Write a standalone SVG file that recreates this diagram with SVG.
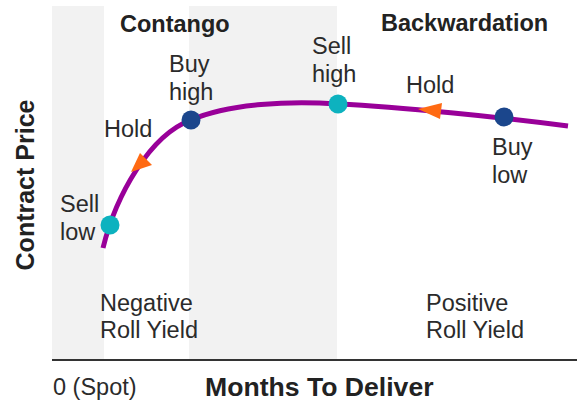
<svg xmlns="http://www.w3.org/2000/svg" width="577" height="401" viewBox="0 0 577 401">
  <style>
    text { font-family: "Liberation Sans", Arial, sans-serif; fill: #2b2b2b; }
    .lbl { font-size: 23.5px; }
    .hdr { font-size: 23.5px; font-weight: bold; fill: #222; }
    .axis-title { font-weight: bold; fill: #222; }
    .band { fill: #f2f2f2; }
    .curve { fill: none; stroke: #990099; stroke-width: 5; stroke-linecap: butt; }
    .teal { fill: #0db2bf; }
    .navy { fill: #1b468c; }
    .arrow { fill: #ff6a13; }
  </style>

  <rect width="577" height="401" fill="#ffffff"/>

  <!-- shaded regions -->
  <g id="bands">
    <rect class="band" x="52" y="6" width="52" height="353"/>
    <rect class="band" x="189" y="6" width="148" height="353"/>
  </g>

  <!-- horizontal axis -->
  <line x1="52" y1="360" x2="577" y2="360" stroke="#333" stroke-width="2"/>

  <!-- region headers -->
  <text class="hdr" x="120" y="32">Contango</text>
  <text class="hdr" x="381" y="31">Backwardation</text>

  <!-- axis titles -->
  <text class="axis-title" x="34" y="185" font-size="25" text-anchor="middle" transform="rotate(-90 34 185)">Contract Price</text>
  <text class="axis-title" x="205" y="396" font-size="26.6">Months To Deliver</text>
  <text class="lbl" x="53" y="395">0 (Spot)</text>

  <!-- connectors: futures curve and roll direction -->
  <g id="connectors">
    <path class="curve" d="M103,248 C116,195 150,135 191,120 C230,103 290,101 338,104 C400,107 500,117 568,126"/>
    <polygon class="arrow" points="131,172 140,153 152,165"/>
    <polygon class="arrow" points="418,109 442,103 440,119"/>
  </g>

  <g id="sell-low">
    <circle class="teal" cx="110" cy="225" r="9.5"/>
    <text class="lbl" x="60" y="212">Sell</text>
    <text class="lbl" x="60" y="240">low</text>
  </g>

  <g id="hold-contango">
    <text class="lbl" x="104" y="137">Hold</text>
  </g>

  <g id="buy-high">
    <circle class="navy" cx="191" cy="120" r="9.5"/>
    <text class="lbl" x="169" y="72">Buy</text>
    <text class="lbl" x="169" y="100">high</text>
  </g>

  <g id="sell-high">
    <circle class="teal" cx="338" cy="104" r="9.5"/>
    <text class="lbl" x="312" y="54">Sell</text>
    <text class="lbl" x="312" y="82">high</text>
  </g>

  <g id="hold-backwardation">
    <text class="lbl" x="406" y="93">Hold</text>
  </g>

  <g id="buy-low">
    <circle class="navy" cx="504" cy="117" r="9.5"/>
    <text class="lbl" x="492" y="155">Buy</text>
    <text class="lbl" x="492" y="183">low</text>
  </g>

  <g id="negative-roll-yield">
    <text class="lbl" x="100" y="311">Negative</text>
    <text class="lbl" x="100" y="338">Roll Yield</text>
  </g>

  <g id="positive-roll-yield">
    <text class="lbl" x="426" y="311">Positive</text>
    <text class="lbl" x="426" y="338">Roll Yield</text>
  </g>
</svg>
